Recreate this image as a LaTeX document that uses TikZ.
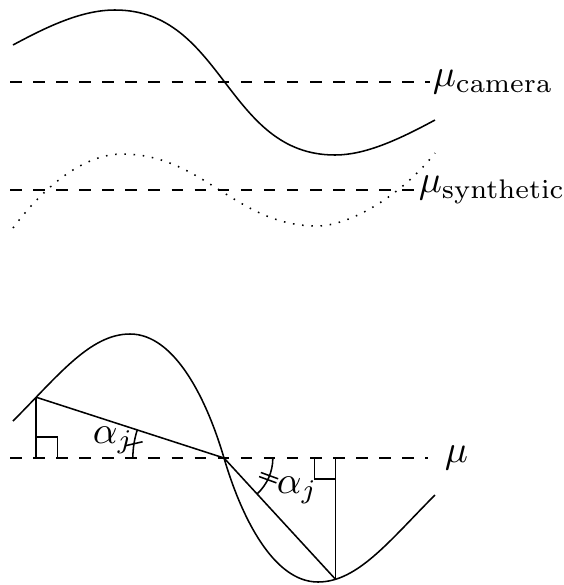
\documentclass[tikz,border=0pt]{standalone}
\usetikzlibrary{calc}
\begin{document}
\begin{tikzpicture}[x={(0.26pt,0pt)}, y={(0pt,-0.26pt)},
  meanline/.style={dashed, line width=0.4pt},
  curvestyle/.style={line width=0.4pt},
  dotcurve/.style={dotted, line width=0.4pt},
  lbl/.style={inner sep=0pt, anchor=west},
  alab/.style={inner sep=0pt, anchor=base west},
  helper/.style={line width=0.4pt}]
\useasboundingbox (0,0) rectangle (564,585);

% ---------- upper panel ----------
\coordinate (m1s) at (10,82);
\coordinate (m1e) at (430,82);
\coordinate (m2s) at (10,190);
\coordinate (m2e) at (415,190);
\draw[meanline] (m1s) -- (m1e);
\draw[meanline] (m2s) -- (m2e);
\node[lbl] (lcam) at (432,82) {$\mu_{\mathrm{camera}}$};
\node[lbl] (lsyn) at (418,190) {$\mu_{\mathrm{synthetic}}$};

\draw[curvestyle] (13,45) .. controls (50,25) and (83,10) .. (115,10)
  .. controls (224,10) and (226,155) .. (335,155)
  .. controls (365,155) and (398,140) .. (435,120);

\draw[dotcurve] (13,228) .. controls (45,185) and (85,154) .. (122,154)
  .. controls (203,154) and (236,226) .. (317,226)
  .. controls (350,226) and (402,195) .. (435,153);

% ---------- lower panel ----------
\coordinate (m3s) at (10,458);
\coordinate (m3e) at (428,458);
\draw[meanline] (m3s) -- (m3e);
\node[lbl] (lmu) at (444,458) {$\mu$};

\draw[curvestyle] (13,421) .. controls (58,376) and (90,334) .. (130,334)
  coordinate[pos=0.18] (A)
  .. controls (175,334) and (207,400) .. (224,458) coordinate (C)
  .. controls (241,516) and (273,582) .. (318,582)
  .. controls (358,582) and (390,540) .. (435,495)
  coordinate[pos=0.15] (B);

\coordinate (FL) at (A |- C);
\coordinate (FR) at (B |- C);

% chords and perpendiculars
\draw[helper] (A) -- (C) -- (B);
\draw[helper] (A) -- (FL);
\draw[helper] (B) -- (FR);

% right-angle marks
\draw[helper] ($(FL)+(0pt,5.5pt)$) -- ($(FL)+(5.5pt,5.5pt)$) -- ($(FL)+(5.5pt,0pt)$);
\draw[helper] ($(FR)+(-5.5pt,0pt)$) -- ($(FR)+(-5.5pt,-5.5pt)$) -- ($(FR)+(0pt,-5.5pt)$);

% angle arcs
\draw[helper] ($(C)+(180:23.7pt)$) arc[start angle=180, end angle=162, radius=23.7pt];
\draw[helper] ($(C)+(171:23.7pt)+(13:-2.3pt)$) -- ++(13:4.6pt);

\draw[helper] ($(C)+(0:12.7pt)$) arc[start angle=0, end angle=-47.4, radius=12.7pt];
\draw[helper] ($(C)+(-21.2:12.7pt)+(-20:-2.4pt)$) -- ++(-20:4.8pt);
\draw[helper] ($(C)+(-26.4:12.7pt)+(-20:-2.4pt)$) -- ++(-20:4.8pt);

\node[alab] (aL) at (92,443) {$\alpha_j$};
\node[alab] (aR) at (276,493) {$\alpha_j$};
\end{tikzpicture}
\end{document}
